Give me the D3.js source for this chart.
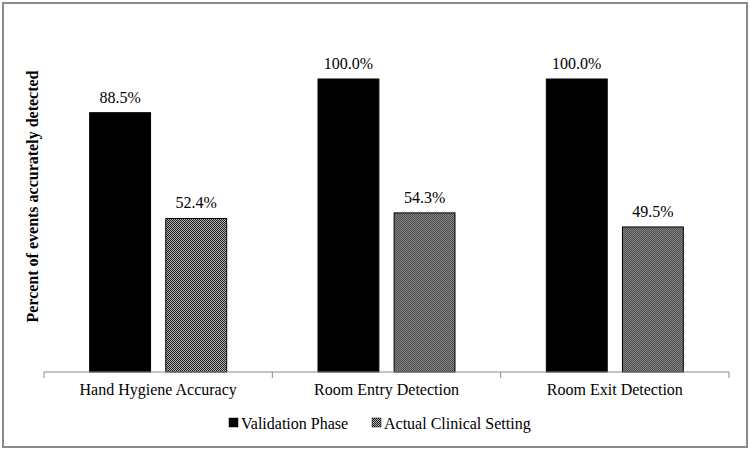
<!DOCTYPE html>
<html>
<head>
<meta charset="utf-8">
<script src="https://cdn.jsdelivr.net/npm/d3@7"></script>
<style>
  html, body { margin: 0; padding: 0; background: #fff; }
  svg { display: block; font-family: "Liberation Serif", "Times New Roman", serif; }
</style>
</head>
<body>
<svg id="chart" width="750" height="449"></svg>
<script>
const categories = ['Hand Hygiene Accuracy', 'Room Entry Detection', 'Room Exit Detection'];
const seriesNames = ['Validation Phase', 'Actual Clinical Setting'];
const validation = [88.5, 100.0, 100.0];
const clinical = [52.4, 54.3, 49.5];

const svg = d3.select('#chart');
const W = 750, H = 449;

// outer frame
svg.append('rect')
  .attr('x', 3).attr('y', 3)
  .attr('width', W - 6).attr('height', H - 5)
  .attr('fill', '#fff')
  .attr('stroke', '#8a8a8a')
  .attr('stroke-width', 2);

// crosshatch pattern for second series
const defs = svg.append('defs');
const pat = defs.append('pattern')
  .attr('id', 'hatch')
  .attr('patternUnits', 'userSpaceOnUse')
  .attr('width', 2).attr('height', 2);
pat.append('rect').attr('width', 2).attr('height', 2).attr('fill', '#b0b0b0');
pat.append('rect').attr('width', 1).attr('height', 1).attr('fill', '#222');
pat.append('rect').attr('x', 1).attr('y', 1).attr('width', 1).attr('height', 1).attr('fill', '#222');

const plot = { left: 44, right: 729, top: 79, bottom: 372 };

const x0 = d3.scaleBand()
  .domain(categories)
  .range([plot.left, plot.right]);

const x1 = d3.scaleBand()
  .domain(seriesNames)
  .range([0, x0.bandwidth()])
  .paddingInner(0.2)
  .paddingOuter(0.6);

const y = d3.scaleLinear()
  .domain([0, 100])
  .range([plot.bottom, plot.top]);

const rows = categories.map((c, i) => ({
  category: c,
  values: [
    { series: seriesNames[0], value: validation[i] },
    { series: seriesNames[1], value: clinical[i] },
  ],
}));

const fills = {
  'Validation Phase': '#000',
  'Actual Clinical Setting': 'url(#hatch)',
};

const groups = svg.selectAll('.group')
  .data(rows)
  .enter()
  .append('g')
  .attr('class', 'group')
  .attr('transform', d => `translate(${x0(d.category)},0)`);

groups.selectAll('rect')
  .data(d => d.values)
  .enter()
  .append('rect')
  .attr('x', d => x1(d.series))
  .attr('y', d => y(d.value))
  .attr('width', x1.bandwidth())
  .attr('height', d => y(0) - y(d.value))
  .attr('fill', d => fills[d.series])
  .attr('stroke', '#000')
  .attr('stroke-width', 1);

// value labels
groups.selectAll('text.label')
  .data(d => d.values)
  .enter()
  .append('text')
  .attr('class', 'label')
  .attr('x', d => x1(d.series) + x1.bandwidth() / 2)
  .attr('y', d => y(d.value) - 10)
  .attr('text-anchor', 'middle')
  .style('font-size', '16px')
  .style('fill', '#000')
  .text(d => `${d.value.toFixed(1)}%`);

// x axis
const xAxis = d3.axisBottom(x0).tickSize(0).tickPadding(0);
const xAxisEl = svg.append('g')
  .attr('transform', `translate(0,${plot.bottom})`)
  .call(xAxis);
xAxisEl.select('.domain')
  .attr('stroke', '#8a8a8a')
  .attr('d', `M${plot.left},0H${plot.right}`);
xAxisEl.selectAll('.tick text')
  .attr('y', 23)
  .attr('dy', 0)
  .style('font-family', '"Liberation Serif", "Times New Roman", serif')
  .style('font-size', '16px')
  .style('fill', '#000');

// category separators
const bounds = categories.map(c => x0(c)).concat([plot.right]);
xAxisEl.selectAll('.sep')
  .data(bounds)
  .enter()
  .append('line')
  .attr('class', 'sep')
  .attr('x1', d => d).attr('x2', d => d)
  .attr('y1', 0).attr('y2', 6)
  .attr('stroke', '#8a8a8a');

// y axis title
svg.append('text')
  .attr('transform', `translate(38,${(plot.top + plot.bottom) / 2 - 29}) rotate(-90)`)
  .attr('text-anchor', 'middle')
  .style('font-size', '16px')
  .style('font-weight', 'bold')
  .text('Percent of events accurately detected');

// legend
const legendItems = [
  { name: seriesNames[0], x: 229 },
  { name: seriesNames[1], x: 372 },
];
const legend = svg.append('g').attr('class', 'legend');
const li = legend.selectAll('g')
  .data(legendItems)
  .enter()
  .append('g')
  .attr('transform', d => `translate(${d.x},418)`);
li.append('rect')
  .attr('width', 9).attr('height', 9)
  .attr('fill', d => fills[d.name])
  .attr('stroke', '#000')
  .attr('stroke-width', 0.5);
li.append('text')
  .attr('x', 12)
  .attr('y', 11)
  .style('font-size', '16px')
  .text(d => d.name);
</script>
</body>
</html>
